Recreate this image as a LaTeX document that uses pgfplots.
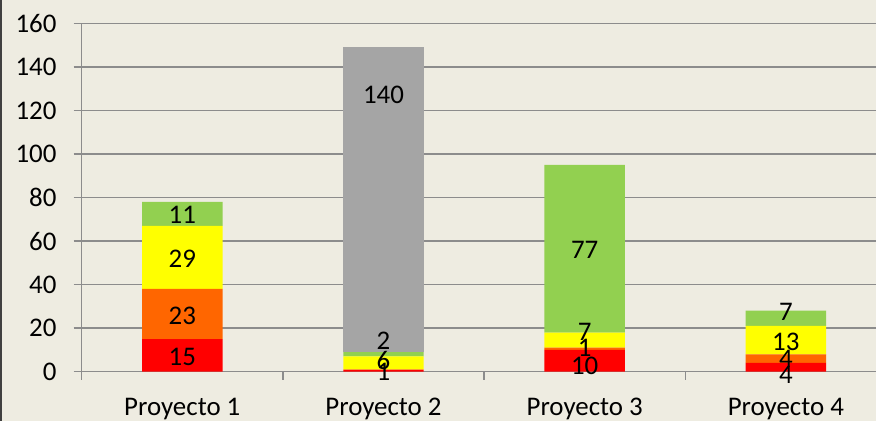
\documentclass[border=0pt]{standalone}
\usepackage{pgfplots}
\pgfplotsset{compat=1.18}
\usepackage{pgfplotstable}
\usepackage{fontspec}
\setmainfont{Carlito}
\definecolor{bg}{HTML}{EEECE1}
\definecolor{gridc}{HTML}{8C8C8C}
\definecolor{sred}{HTML}{FF0000}
\definecolor{sorange}{HTML}{FF6600}
\definecolor{syellow}{HTML}{FFFF00}
\definecolor{sgreen}{HTML}{92D050}
\definecolor{sgray}{HTML}{A5A5A5}
\definecolor{borderc}{HTML}{404040}

\pgfplotstableread{
x red orange yellow green gray
0 15 23 29 11 0
1 1 0 6 2 140
2 10 1 7 77 0
3 4 4 13 7 0
}\datatab

\pgfplotstableread{
x y label
0 7 15
0 25.5 23
0 52 29
0 72 11
1 0 1
1 5.2 6
1 14.4 2
1 127.2 140
2 2.9 10
2 10.9 1
2 18.2 7
2 56 77
3 -1.5 4
3 5.8 4
3 13.9 13
3 27.4 7
}\labtab

\newcommand{\cfont}{\fontsize{27}{32}\selectfont}

\begin{document}
\begin{tikzpicture}[font=\cfont]
\useasboundingbox (0,0) rectangle (876bp,421bp);
\fill[bg] (0,0) rectangle (876bp,421bp);
\draw[borderc, line width=1.5bp] (0.75bp,0) -- (0.75bp,421bp);
\begin{axis}[
  at={(81.7bp,49.3bp)}, anchor=south west,
  scale only axis, width=794.3bp, height=348.4bp,
  xmin=-0.5, xmax=3.448, ymin=0, ymax=160,
  ybar stacked, bar width=0.4,
  axis lines=left,
  axis line style={-, gridc, line width=1.5bp},
  ytick={0,20,...,160},
  ymajorgrids, grid style={gridc, line width=1.5bp},
  xtick={-0.5,0.5,1.5,2.5}, xticklabels={},
  extra x ticks={0,1,2,3},
  extra x tick labels={Proyecto 1,Proyecto 2,Proyecto 3,Proyecto 4},
  extra x tick style={major tick length=0pt, grid=none},
  tick align=outside, major tick length=8bp,
  tick style={gridc, line width=1.5bp},
  tick label style={font=\cfont, text=black},
  /pgf/number format/assume math mode=true,
  xticklabel style={inner sep=0pt, anchor=north, yshift=-26bp},
  yticklabel style={inner sep=0pt, anchor=east, xshift=-17bp},
]
\addplot[fill=sred, draw=none] table[x=x, y=red] {\datatab};
\addplot[fill=sorange, draw=none] table[x=x, y=orange] {\datatab};
\addplot[fill=syellow, draw=none] table[x=x, y=yellow] {\datatab};
\addplot[fill=sgreen, draw=none] table[x=x, y=green] {\datatab};
\addplot[fill=sgray, draw=none] table[x=x, y=gray] {\datatab};
\end{axis}
\begin{axis}[
  at={(81.7bp,49.3bp)}, anchor=south west,
  scale only axis, width=794.3bp, height=348.4bp,
  xmin=-0.5, xmax=3.448, ymin=0, ymax=160,
  hide axis, clip=false,
]
\addplot[draw=none, nodes near coords, point meta=explicit symbolic,
  every node near coord/.style={anchor=center, inner sep=0pt, font=\cfont, text=black}]
  table[x=x, y=y, meta=label] {\labtab};
\end{axis}
\end{tikzpicture}
\end{document}
